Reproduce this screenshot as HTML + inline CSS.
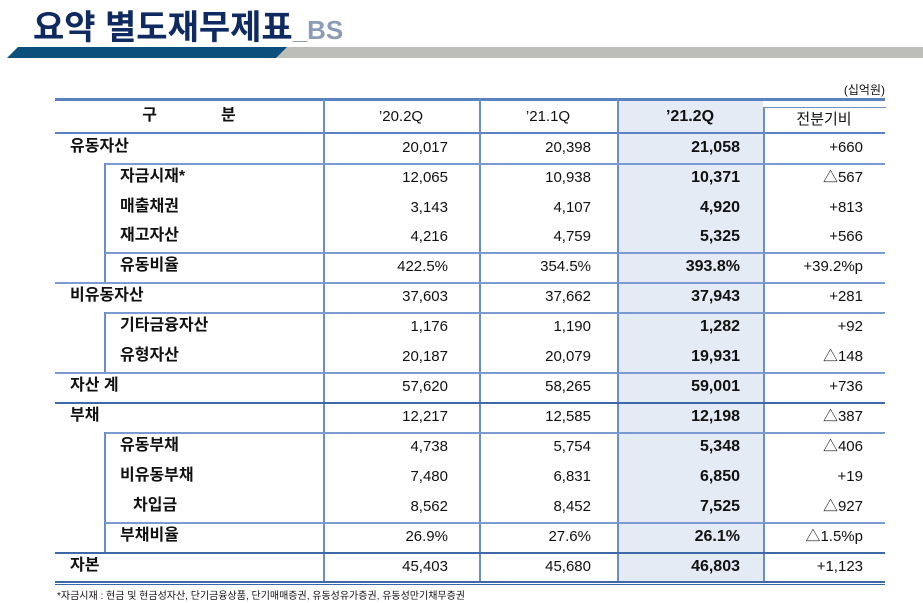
<!DOCTYPE html>
<html><head><meta charset="utf-8"><style>
body{margin:0;width:923px;height:603px;background:#fff;position:relative;overflow:hidden;font-family:"Liberation Sans","Noto Sans CJK KR",sans-serif;color:#111}
.a{position:absolute}
.t{font-size:15px;white-space:nowrap}
.lab{font-weight:bold;font-size:16px}
</style></head><body>
<div class="a" style="left:33px;top:0px;font-size:34px;font-weight:bold;color:#0e2a60">요약 별도재무제표<span style="font-size:26px;color:#8c9cb6">_BS</span></div>
<svg class="a" style="left:0;top:45px" width="923" height="14">
<polygon points="272,13 923,13 923,2 285,2" fill="#bdbdb9"/>
<polygon points="7,13 276,13 287,2 18,2" fill="#0b4f7d"/>
</svg>
<div class="a t" style="right:38px;top:81px;font-size:12px">(십억원)</div>
<div class="a" style="left:617px;top:99px;width:146px;height:482px;background:#e4ebf5"></div>
<div class="a" style="left:763px;top:107px;width:122px;height:26px;background:#fff;border-top:1.5px solid #6a8fc8;border-left:1.5px solid #6a8fc8"></div>
<div id="lines"></div>
<div id="rows"></div>
<div class="a t" style="left:57px;top:587px;font-size:10px">*자금시재 : 현금 및 현금성자산, 단기금융상품, 단기매매증권, 유동성유가증권, 유동성만기채무증권</div>
<script>
const labels=["유동자산","자금시재*","매출채권","재고자산","유동비율","비유동자산","기타금융자산","유형자산","자산 계","부채","유동부채","비유동부채","차입금","부채비율","자본"];
const q20_2=["20,017","12,065","3,143","4,216","422.5%","37,603","1,176","20,187","57,620","12,217","4,738","7,480","8,562","26.9%","45,403"];
const q21_1=["20,398","10,938","4,107","4,759","354.5%","37,662","1,190","20,079","58,265","12,585","5,754","6,831","8,452","27.6%","45,680"];
const q21_2=["21,058","10,371","4,920","5,325","393.8%","37,943","1,282","19,931","59,001","12,198","5,348","6,850","7,525","26.1%","46,803"];
const diff=["+660","△567","+813","+566","+39.2%p","+281","+92","△148","+736","△387","△406","+19","△927","△1.5%p","+1,123"];
const indent=[0,1,1,1,1,0,1,1,0,0,1,1,2,1,0];
const tops=[133,163,193,222,252,282,312,342,372,402,432,462,492,522,552];
const rowH=29.8;
const rows=document.getElementById('rows');
const L=document.getElementById('lines');
function line(x1,x2,y,w,c,name){const d=document.createElement('div');


d.className='a';d.style.cssText=`left:${x1}px;top:${y}px;width:${x2-x1}px;height:${w}px;background:${c}`;L.appendChild(d);}
function vline(x,y1,y2,name){const d=document.createElement('div');


d.className='a';d.style.cssText=`left:${x}px;top:${y1}px;width:1.5px;height:${y2-y1}px;background:#6a8fc8`;L.appendChild(d);}
function cell(txt,x,w,y,cls,name,align,bold){const d=document.createElement('div');


d.className='a t '+(cls||'');d.style.cssText=`left:${x}px;width:${w}px;top:${y}px;height:${rowH}px;line-height:${rowH}px;text-align:${align};${bold?'font-weight:bold;':''}`;d.textContent=txt;rows.appendChild(d);}
cell("구　　　　분",55,268,101,'lab','header-category','center',true);
cell("’20.2Q",323,156,102,'','header-20-2q','center',false);
cell("’21.1Q",479,138,102,'','header-21-1q','center',false);
cell("’21.2Q",617,146,102,'lab','header-21-2q','center',true);
cell("전분기비",763,122,105,'','header-qoq','center',false);
line(55,885,98,2.5,'#5a82c0','table-top-border');
line(55,885,132,2,'#5a82c0','header-bottom-border');
vline(323,99,581,'col-divider-1');vline(479,99,581,'col-divider-2');vline(617,99,581,'col-divider-3');vline(763,107,581,'col-divider-4');
for(let i=0;i<labels.length;i++){
 const y=tops[i];
 const x=[70,120,133][indent[i]];
 cell(labels[i],x,200,y-1,'lab','row-label-'+i,'left',true);
 cell(q20_2[i],323,125,y,'','value-20-2q-'+i,'right',false);
 cell(q21_1[i],479,112,y,'','value-21-1q-'+i,'right',false);
 cell(q21_2[i],617,123,y,'lab','value-21-2q-'+i,'right',true);
 cell(diff[i],763,100,y,'','value-qoq-'+i,'right',false);
}
[[163,104],[252,104],[282,55],[312,104],[372,55],[432,104],[522,104]].forEach((p,k)=>line(p[1],885,p[0],1.5,'#7b9bd0','row-line-'+k));
[[402,55],[552,55],[581,55]].forEach((p,k)=>line(p[1],885,p[0],2.2,'#3f69a6','section-line-'+k));
line(55,885,584,1,'#3f69a6','table-bottom-double');
vline(104,163,282,'indent-border-assets');vline(104,312,372,'indent-border-noncurrent');vline(104,432,552,'indent-border-liab');
</script>
</body></html>
